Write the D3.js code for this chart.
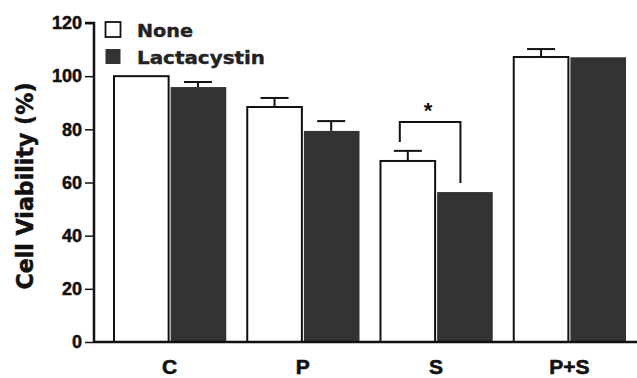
<!DOCTYPE html>
<html><head><meta charset="utf-8">
<script src="https://cdn.jsdelivr.net/npm/d3@7"></script>
<style>body{margin:0;background:#fff}svg{display:block}</style>
</head><body>
<script>
const categories = ["C", "P", "S", "P+S"];
const seriesNames = ["None", "Lactacystin"];
const noneValues = [100, 88.4, 68.1, 107.2];
const noneErrors = [0, 3.4, 3.8, 3.0];
const lactValues = [95.9, 79.4, 56.4, 107.1];
const lactErrors = [1.9, 3.7, 0, 0];
const yTicks = [0, 20, 40, 60, 80, 100, 120];
const sigBracket = {from: "S", top: 82.8, leftLow: 75.2, rightLow: 59.8, label: "*"};

const W = 637, H = 378;
const svg = d3.select("body").append("svg").attr("width", W).attr("height", H);
const y = d3.scaleLinear().domain([0, 120]).range([342, 23]);
const x = d3.scaleBand().domain(categories).range([103, 636]).paddingInner(0.15).paddingOuter(0.075);
const xs = d3.scaleBand().domain(seriesNames).range([0, x.bandwidth()]);
const fills = {"None": "#ffffff", "Lactacystin": "#333333"};

const font = "'Liberation Sans', Arial, sans-serif";

const data = categories.map((c, i) => ({c, vals: [
  {s: "None", v: noneValues[i], e: noneErrors[i]},
  {s: "Lactacystin", v: lactValues[i], e: lactErrors[i]}]}));

const g = svg.append("g");
data.forEach(d => {
  d.vals.forEach(b => {
    const bx = x(d.c) + xs(b.s);
    const bw = xs.bandwidth();
    if (b.e > 0) {
      const cx = bx + bw / 2;
      g.append("line").attr("x1", cx).attr("x2", cx).attr("y1", y(b.v)).attr("y2", y(b.v + b.e))
        .attr("stroke", "#111").attr("stroke-width", 2);
      g.append("line").attr("x1", cx - 14).attr("x2", cx + 14).attr("y1", y(b.v + b.e)).attr("y2", y(b.v + b.e))
        .attr("stroke", "#111").attr("stroke-width", 2);
    }
    if (b.s === "None") {
      g.append("rect").attr("x", bx + 1).attr("y", y(b.v)).attr("width", bw - 2).attr("height", y(0) - y(b.v))
        .attr("fill", "#fff").attr("stroke", "#111").attr("stroke-width", 2);
    } else {
      g.append("rect").attr("x", bx + 1).attr("y", y(b.v)).attr("width", bw - 1).attr("height", y(0) - y(b.v))
        .attr("fill", fills[b.s]);
    }
  });
});

svg.append("line").attr("x1", 94).attr("x2", W).attr("y1", y(0)).attr("y2", y(0))
  .attr("stroke", "#111").attr("stroke-width", 2.5);

svg.append("g").selectAll("text").data(categories).join("text")
  .attr("x", c => x(c) + x.bandwidth() / 2).attr("y", 374)
  .attr("text-anchor", "middle").attr("font-family", font).attr("font-weight", "bold")
  .attr("font-size", 21).attr("fill", "#111").attr("stroke", "#111").attr("stroke-width", 0.6).text(c => c);

const yAxis = svg.append("g").attr("transform", "translate(94,0)")
  .call(d3.axisLeft(y).tickValues(yTicks).tickSize(9).tickPadding(3));
yAxis.select(".domain").attr("stroke", "#111").attr("stroke-width", 2.5).attr("d", `M-9,${y(120)}H0V${y(0)}`);
yAxis.selectAll(".tick line").attr("stroke", "#111").attr("stroke-width", 1.5);
yAxis.selectAll(".tick text").attr("font-family", font).attr("font-weight", "bold")
  .attr("font-size", 18).attr("fill", "#111").attr("stroke", "#111").attr("stroke-width", 0.5);

svg.append("text").attr("transform", "translate(33,186) rotate(-90)")
  .attr("text-anchor", "middle").attr("font-family", "'DejaVu Sans', sans-serif").attr("font-weight", "bold")
  .attr("font-size", 23).attr("textLength", 207).attr("lengthAdjust", "spacingAndGlyphs")
  .attr("fill", "#111").attr("stroke", "#111").attr("stroke-width", 0.5).text("Cell Viability (%)");

const sx1 = x(sigBracket.from) + xs.bandwidth() / 2 - 8;
const sx2 = x(sigBracket.from) + xs.bandwidth() * 1.5 - 4;
svg.append("path")
  .attr("d", `M${sx1},${y(sigBracket.leftLow)}V${y(sigBracket.top)}H${sx2}V${y(sigBracket.rightLow)}`)
  .attr("fill", "none").attr("stroke", "#111").attr("stroke-width", 2);
svg.append("text").attr("x", (sx1 + sx2) / 2 - 2).attr("y", y(sigBracket.top) - 4)
  .attr("text-anchor", "middle").attr("font-family", font).attr("font-weight", "bold")
  .attr("font-size", 22).attr("fill", "#111").text(sigBracket.label);

const leg = svg.append("g");
seriesNames.forEach((s, i) => {
  const ly = 22 + i * 27;
  leg.append("rect").attr("x", 105.5).attr("y", ly).attr("width", 15).attr("height", 15)
    .attr("fill", fills[s]).attr("stroke", "#111").attr("stroke-width", s === "None" ? 1.8 : 0);
  leg.append("text").attr("x", 137).attr("y", ly + 15).attr("font-family", "'DejaVu Sans', sans-serif")
    .attr("font-weight", "bold").attr("font-size", 18)
    .attr("textLength", s === "None" ? 56 : 128).attr("lengthAdjust", "spacingAndGlyphs")
    .attr("fill", "#222").attr("stroke", "#222").attr("stroke-width", 0.4).text(s);
});
</script>
</body></html>
